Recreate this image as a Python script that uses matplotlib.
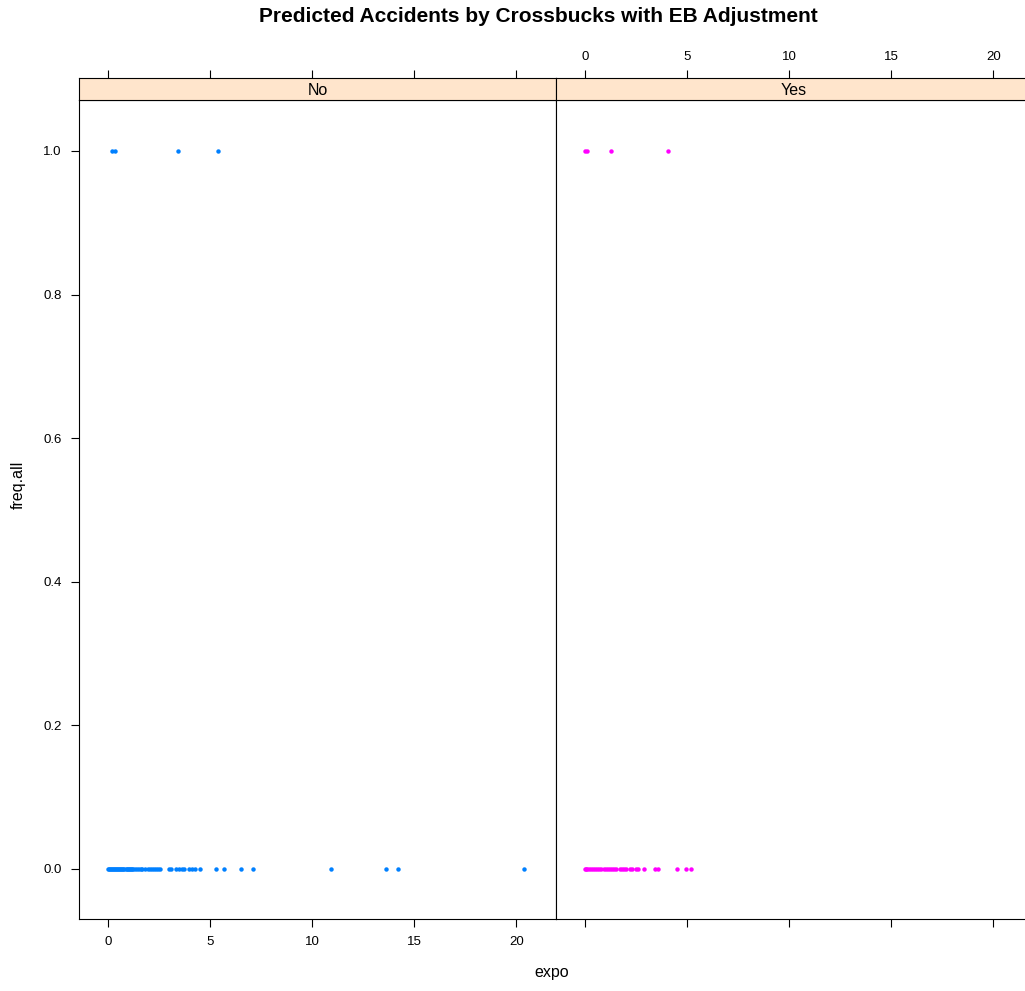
import numpy as np
import matplotlib.pyplot as plt

plt.rcParams['font.family'] = ['Liberation Sans', 'DejaVu Sans']

# expo values for observations with freq.all = 0 and 1, by crossbucks group
no_zero = [0.0, 0.05, 0.1, 0.15, 0.2, 0.25, 0.3, 0.35, 0.4, 0.45, 0.5, 0.55, 0.6,
           0.65, 0.7, 0.75, 0.8, 0.85, 0.9, 0.95, 1.0, 1.05, 1.1, 1.15, 1.2, 1.3,
           1.4, 1.5, 1.6, 1.65, 1.8, 1.95, 2.05, 2.15, 2.25, 2.35, 2.45, 2.55,
           3.0, 3.1, 3.3, 3.45, 3.6, 3.7, 3.95, 4.1, 4.25, 4.5, 5.3, 5.7, 6.5,
           7.1, 10.9, 13.6, 14.2, 20.4]
no_one = [0.2, 0.35, 3.4, 5.4]
yes_zero = [0.0, 0.05, 0.1, 0.2, 0.3, 0.4, 0.5, 0.6, 0.7, 0.8, 0.9, 1.0, 1.1,
            1.2, 1.3, 1.4, 1.5, 1.7, 1.8, 1.9, 2.0, 2.2, 2.3, 2.5, 2.6, 2.9,
            3.4, 3.55, 4.5, 4.95, 5.2]
yes_one = [0.0, 0.1, 1.27, 4.07]

panels = ['No', 'Yes']
colors = ['#0080FF', '#FF00FF']
data = {'No': (no_zero, no_one), 'Yes': (yes_zero, yes_one)}

xlim = (-1.43, 21.95)
ylim = (-0.07, 1.071)
xticks = [0, 5, 10, 15, 20]
yticks = [0.0, 0.2, 0.4, 0.6, 0.8, 1.0]

fig = plt.figure(figsize=(10.25, 9.91), dpi=100)
W, H = 1025, 991
left0, mid, right0 = 79, 556, 1033   # right panel runs past the image edge
top, bottom, strip_top = 100, 919, 78

for i, name in enumerate(panels):
    x0 = left0 if i == 0 else mid
    x1 = mid if i == 0 else right0
    ax = fig.add_axes([x0 / W, 1 - bottom / H, (x1 - x0) / W, (bottom - top) / H])
    zeros, ones = data[name]
    ax.plot(zeros, [0] * len(zeros), 'o', color=colors[i], ms=3.2, mew=0)
    ax.plot(ones, [1] * len(ones), 'o', color=colors[i], ms=3.2, mew=0)
    ax.set_xlim(*xlim)
    ax.set_ylim(*ylim)
    ax.set_xticks(xticks)
    ax.tick_params(direction='out', length=5.5, width=0.8, labelsize=9.5, pad=7)
    if i == 0:
        ax.set_yticks(yticks)
        ax.set_yticklabels([f'{v:.1f}' for v in yticks])
    else:
        ax.set_yticks([])
        ax.set_xticklabels([])
    for s in ax.spines.values():
        s.set_linewidth(0.8)

    sax = fig.add_axes([x0 / W, 1 - top / H, (x1 - x0) / W, (top - strip_top) / H])
    sax.set_facecolor('#FFE5CC')
    sax.set_xlim(*xlim)
    sax.set_ylim(0, 1)
    sax.set_yticks([])
    sax.xaxis.tick_top()
    sax.set_xticks(xticks)
    sax.tick_params(direction='out', length=5.5, width=0.8, labelsize=9.5, pad=5,
                    labelbottom=False, labeltop=(i == 1))
    sax.text(0.5 if i == 0 else (794 - x0) / (x1 - x0), 0.42, name,
             transform=sax.transAxes, ha='center', va='center', fontsize=11.5)
    for s in sax.spines.values():
        s.set_linewidth(0.8)

fig.text(538 / W, 1 - 16 / H, 'Predicted Accidents by Crossbucks with EB Adjustment',
         ha='center', va='center', fontsize=15, fontweight='bold')
fig.text(552 / W, 1 - 972 / H, 'expo', ha='center', va='center', fontsize=11.5)
fig.text(18 / W, 1 - 485 / H, 'freq.all', ha='center', va='center', fontsize=11.5,
         rotation=90)

fig.savefig('out.png', dpi=100)
